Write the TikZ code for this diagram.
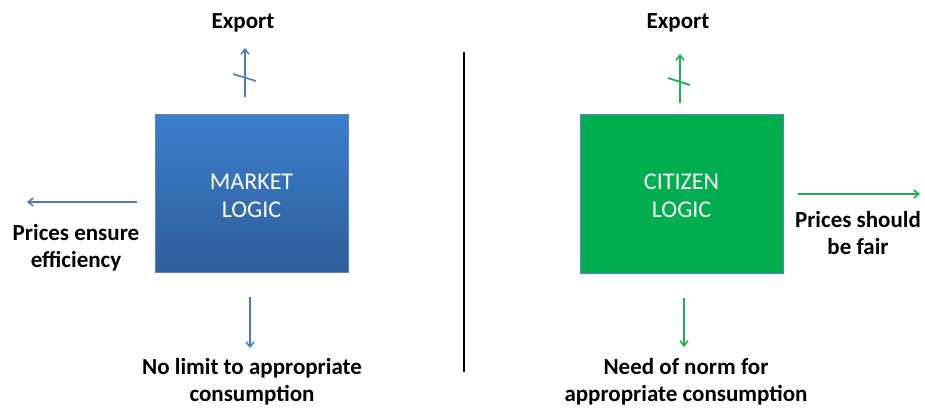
\documentclass[tikz,border=0pt]{standalone}
\usepackage{fontspec}
\setmainfont{Carlito}
\usetikzlibrary{arrows.meta}
\definecolor{mblue}{HTML}{4A7EBB}
\definecolor{mgreen}{HTML}{1DAF50}
\definecolor{boxtop}{HTML}{3B7FCC}
\definecolor{boxbot}{HTML}{2F5E9C}
\definecolor{cgreen}{HTML}{00AD4F}
\definecolor{bordblue}{HTML}{5B86C0}
\begin{document}
\begin{tikzpicture}[x=1pt,y=-1pt,
  lbl/.style={font=\bfseries\fontsize{23}{27}\selectfont, text=black, align=center, inner sep=0pt},
  boxtxt/.style={font=\fontsize{24}{28}\selectfont, text=white, align=center},
  barrow/.style={draw=mblue, line width=1.5pt, -{Straight Barb[length=5pt,width=8pt]}},
  garrow/.style={draw=mgreen, line width=1.6pt, -{Straight Barb[length=5pt,width=8pt]}},
  bslash/.style={draw=mblue, line width=1.6pt},
  gslash/.style={draw=mgreen, line width=1.8pt}]
\useasboundingbox (0,0) rectangle (925,408);
% boxes
\shade[top color=boxtop, bottom color=boxbot, draw=bordblue, line width=0.8pt] (155,114) rectangle (348,272);
\node[boxtxt] (mk) at (251.5,196) {MARKET\\LOGIC};
\fill[cgreen, draw=bordblue, line width=0.8pt] (580,114) rectangle (783,273);
\node[boxtxt] (ct) at (681.5,196) {CITIZEN\\LOGIC};
% divider
\coordinate (dv1) at (464,52);
\coordinate (dv2) at (464,372);
\draw[black, line width=1.3pt] (dv1) -- (dv2);
% left side
\node[lbl] (ex1) at (243,23) {Export};
\coordinate (bu1) at (245,97);
\coordinate (bu2) at (245,48);
\draw[barrow] (bu1) -- (bu2);
\coordinate (bs1) at (233,74);
\coordinate (bs2) at (256,81);
\draw[bslash] (bs1) -- (bs2);
\coordinate (bl1) at (137,202);
\coordinate (bl2) at (27,202);
\draw[barrow] (bl1) -- (bl2);
\node[lbl] (pe) at (76,248) {Prices ensure\\efficiency};
\coordinate (bd1) at (250,297);
\coordinate (bd2) at (250,348);
\draw[barrow] (bd1) -- (bd2);
\node[lbl] (nl) at (252,382) {No limit to appropriate\\consumption};
% right side
\node[lbl] (ex2) at (678,23) {Export};
\coordinate (gu1) at (680,103);
\coordinate (gu2) at (680,54);
\draw[garrow] (gu1) -- (gu2);
\coordinate (gs1) at (668,78);
\coordinate (gs2) at (690,85);
\draw[gslash] (gs1) -- (gs2);
\coordinate (gr1) at (798,194);
\coordinate (gr2) at (920,194);
\draw[garrow] (gr1) -- (gr2);
\node[lbl] (pf) at (858,233) {Prices should\\be fair};
\coordinate (gd1) at (684,298);
\coordinate (gd2) at (684,347);
\draw[garrow] (gd1) -- (gd2);
\node[lbl] (nn) at (686,382) {Need of norm for\\appropriate consumption};
\end{tikzpicture}
\end{document}
